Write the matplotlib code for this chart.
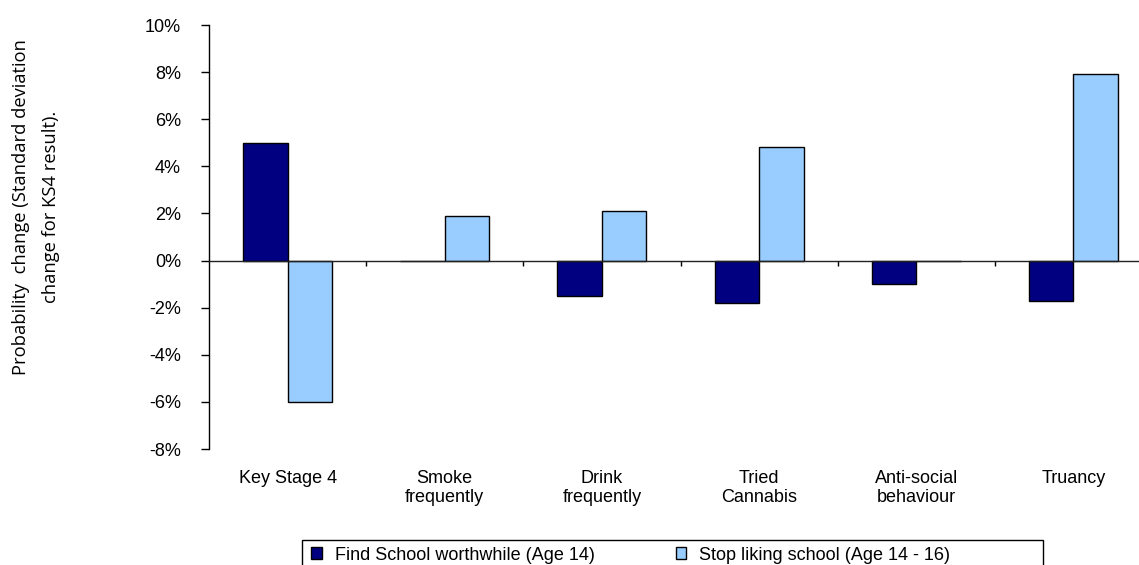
import matplotlib
matplotlib.use("Agg")
import matplotlib.pyplot as plt
from matplotlib.patches import Patch, Rectangle
import numpy as np

categories = ["Key Stage 4", "Smoke\nfrequently", "Drink\nfrequently",
              "Tried\nCannabis", "Anti-social\nbehaviour", "Truancy"]
series_names = ["Find School worthwhile (Age 14)", "Stop liking school (Age 14 - 16)"]
find_worthwhile = [5.0, 0.0, -1.5, -1.8, -1.0, -1.7]
stop_liking = [-6.0, 1.9, 2.1, 4.8, 0.0, 7.9]
y_ticks = [-8, -6, -4, -2, 0, 2, 4, 6, 8, 10]
y_tick_labels = [f"{v}%" for v in y_ticks]
ylabel_lines = ["Probability  change (Standard deviation", "change for KS4 result)."]

colors = ["#000080", "#99CCFF"]
W, H = 1139, 565

plt.rcParams["font.family"] = ["Liberation Sans", "DejaVu Sans"]

fig = plt.figure(figsize=(W / 100, H / 100), dpi=100)
ax = fig.add_axes([209 / W, 1 - 449 / H, 943 / W, (449 - 25) / H])

x = np.arange(len(categories))
bw = 0.283
ax.bar(x - bw / 2, find_worthwhile, bw, color=colors[0], edgecolor="black",
       linewidth=1.0, zorder=2)
ax.bar(x + bw / 2, stop_liking, bw, color=colors[1], edgecolor="black",
       linewidth=1.0, zorder=2)

ax.set_xlim(-0.5, len(categories) - 0.5)
ax.set_ylim(y_ticks[0], y_ticks[-1])

for s in ["top", "right"]:
    ax.spines[s].set_visible(False)
ax.spines["bottom"].set_position(("data", 0))
ax.spines["bottom"].set_linewidth(1.0)
ax.spines["bottom"].set_color("#222222")
ax.spines["bottom"].set_zorder(3)
ax.spines["left"].set_linewidth(1.0)

ax.set_xticks(x[:-1] + 0.5)
ax.set_xticklabels([])
ax.tick_params(axis="x", direction="out", length=3.6, width=1.0, color="black")

ax.set_yticks(y_ticks)
ax.set_yticklabels(y_tick_labels, fontsize=13)
ax.tick_params(axis="y", direction="out", length=5.8, width=1.0, pad=14.4)

sec = ax.secondary_xaxis("bottom")
sec.set_xticks(x)
sec.set_xticklabels(categories, fontsize=13)
sec.tick_params(length=0, pad=15)
sec.spines["bottom"].set_visible(False)

fig.text(21 / W, 1 - 207 / H, ylabel_lines[0], rotation=90, ha="center", va="center",
         fontsize=13.2, family=["Open Sans", "DejaVu Sans"])
fig.text(51 / W, 1 - 207 / H, ylabel_lines[1], rotation=90, ha="center", va="center",
         fontsize=13.2, family=["Open Sans", "DejaVu Sans"])

handles = [Patch(facecolor=c, edgecolor="black", linewidth=1.0) for c in colors]
leg = fig.legend(handles, series_names, ncol=2, loc="center left",
                 bbox_to_anchor=(302 / W, 1 - 555 / H), frameon=False,
                 fontsize=13, borderaxespad=0, borderpad=0.5,
                 handlelength=0.6, handleheight=0.6, handletextpad=0.7,
                 columnspacing=4.5)
fig.patches.append(Rectangle((302 / W, 1 - 580 / H), (1043 - 302) / W, 40 / H,
                             transform=fig.transFigure, fill=False,
                             edgecolor="black", linewidth=1.0))

fig.savefig("out.png", dpi=100)
